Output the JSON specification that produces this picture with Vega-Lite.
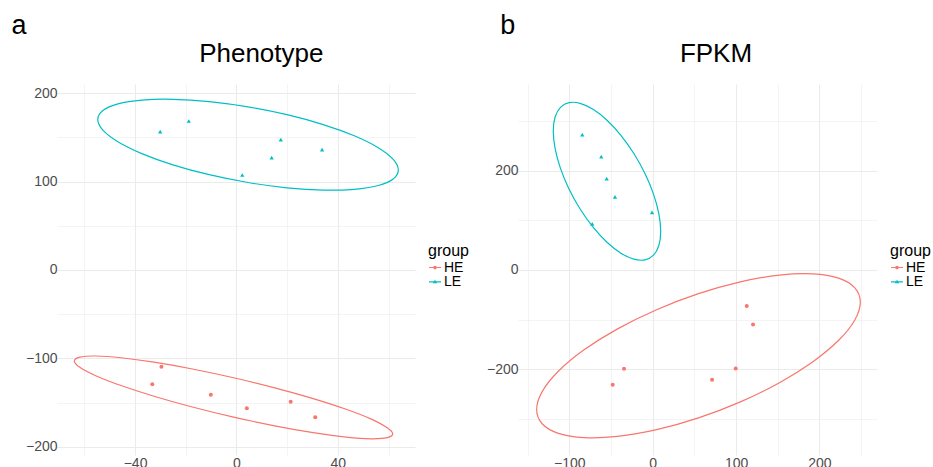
{
  "$schema": "https://vega.github.io/schema/vega-lite/v6.json",
  "padding": {"left": 11, "top": 11, "right": 0, "bottom": 0},
  "background": "white",
  "datasets": {
    "ptsA": [
      {"x": -30.1, "y": 156.5, "group": "LE"},
      {"x": -18.8, "y": 168.6, "group": "LE"},
      {"x": 2.3, "y": 107.5, "group": "LE"},
      {"x": 13.9, "y": 127.1, "group": "LE"},
      {"x": 17.5, "y": 147.5, "group": "LE"},
      {"x": 33.8, "y": 136.2, "group": "LE"},
      {"x": -29.6, "y": -109.4, "group": "HE"},
      {"x": -33.2, "y": -129.4, "group": "HE"},
      {"x": -10.1, "y": -141.1, "group": "HE"},
      {"x": 4.1, "y": -156.5, "group": "HE"},
      {"x": 21.4, "y": -149.1, "group": "HE"},
      {"x": 31.1, "y": -166.7, "group": "HE"}
    ],
    "ptsB": [
      {"x": -84.5, "y": 272.5, "group": "LE"},
      {"x": -61.7, "y": 228.3, "group": "LE"},
      {"x": -55.2, "y": 184.1, "group": "LE"},
      {"x": -45.2, "y": 147.2, "group": "LE"},
      {"x": -0.8, "y": 115.9, "group": "LE"},
      {"x": -72.5, "y": 93.0, "group": "LE"},
      {"x": 112.8, "y": -72.3, "group": "HE"},
      {"x": 120.4, "y": -109.8, "group": "HE"},
      {"x": -34.4, "y": -198.8, "group": "HE"},
      {"x": -48.0, "y": -230.9, "group": "HE"},
      {"x": 71.2, "y": -220.9, "group": "HE"},
      {"x": 99.6, "y": -198.2, "group": "HE"}
    ],
    "ellA": [
      {"i": 0, "x": 63.87, "y": 113.19, "group": "LE"},
      {"i": 1, "x": 61.85, "y": 103.09, "group": "LE"},
      {"i": 2, "x": 55.93, "y": 95.61, "group": "LE"},
      {"i": 3, "x": 46.50, "y": 91.29, "group": "LE"},
      {"i": 4, "x": 34.23, "y": 90.41, "group": "LE"},
      {"i": 5, "x": 19.92, "y": 93.04, "group": "LE"},
      {"i": 6, "x": 4.58, "y": 98.98, "group": "LE"},
      {"i": 7, "x": -10.76, "y": 107.84, "group": "LE"},
      {"i": 8, "x": -25.07, "y": 119.03, "group": "LE"},
      {"i": 9, "x": -37.34, "y": 131.75, "group": "LE"},
      {"i": 10, "x": -46.77, "y": 145.17, "group": "LE"},
      {"i": 11, "x": -52.69, "y": 158.35, "group": "LE"},
      {"i": 12, "x": -54.71, "y": 170.41, "group": "LE"},
      {"i": 13, "x": -52.69, "y": 180.51, "group": "LE"},
      {"i": 14, "x": -46.77, "y": 187.99, "group": "LE"},
      {"i": 15, "x": -37.34, "y": 192.31, "group": "LE"},
      {"i": 16, "x": -25.07, "y": 193.19, "group": "LE"},
      {"i": 17, "x": -10.76, "y": 190.56, "group": "LE"},
      {"i": 18, "x": 4.58, "y": 184.62, "group": "LE"},
      {"i": 19, "x": 19.92, "y": 175.76, "group": "LE"},
      {"i": 20, "x": 34.23, "y": 164.57, "group": "LE"},
      {"i": 21, "x": 46.50, "y": 151.85, "group": "LE"},
      {"i": 22, "x": 55.93, "y": 138.43, "group": "LE"},
      {"i": 23, "x": 61.85, "y": 125.25, "group": "LE"},
      {"i": 0, "x": 61.66, "y": -185.43, "group": "HE"},
      {"i": 1, "x": 59.52, "y": -189.78, "group": "HE"},
      {"i": 2, "x": 53.24, "y": -191.04, "group": "HE"},
      {"i": 3, "x": 43.27, "y": -189.09, "group": "HE"},
      {"i": 4, "x": 30.26, "y": -184.10, "group": "HE"},
      {"i": 5, "x": 15.11, "y": -176.37, "group": "HE"},
      {"i": 6, "x": -1.14, "y": -166.46, "group": "HE"},
      {"i": 7, "x": -17.39, "y": -155.03, "group": "HE"},
      {"i": 8, "x": -32.54, "y": -142.86, "group": "HE"},
      {"i": 9, "x": -45.55, "y": -130.79, "group": "HE"},
      {"i": 10, "x": -55.52, "y": -119.62, "group": "HE"},
      {"i": 11, "x": -61.80, "y": -110.14, "group": "HE"},
      {"i": 12, "x": -63.94, "y": -102.97, "group": "HE"},
      {"i": 13, "x": -61.80, "y": -98.62, "group": "HE"},
      {"i": 14, "x": -55.52, "y": -97.36, "group": "HE"},
      {"i": 15, "x": -45.55, "y": -99.31, "group": "HE"},
      {"i": 16, "x": -32.54, "y": -104.30, "group": "HE"},
      {"i": 17, "x": -17.39, "y": -112.03, "group": "HE"},
      {"i": 18, "x": -1.14, "y": -121.94, "group": "HE"},
      {"i": 19, "x": 15.11, "y": -133.37, "group": "HE"},
      {"i": 20, "x": 30.26, "y": -145.54, "group": "HE"},
      {"i": 21, "x": 43.27, "y": -157.61, "group": "HE"},
      {"i": 22, "x": 53.24, "y": -168.78, "group": "HE"},
      {"i": 23, "x": 59.52, "y": -178.62, "group": "HE"}
    ],
    "ellB": [
      {"i": 0, "x": 9.60, "y": 77.74, "group": "LE"},
      {"i": 1, "x": 7.40, "y": 49.38, "group": "LE"},
      {"i": 2, "x": 0.97, "y": 29.82, "group": "LE"},
      {"i": 3, "x": -9.27, "y": 20.41, "group": "LE"},
      {"i": 4, "x": -22.62, "y": 21.80, "group": "LE"},
      {"i": 5, "x": -38.16, "y": 33.87, "group": "LE"},
      {"i": 6, "x": -54.84, "y": 55.81, "group": "LE"},
      {"i": 7, "x": -71.52, "y": 86.13, "group": "LE"},
      {"i": 8, "x": -87.06, "y": 122.76, "group": "LE"},
      {"i": 9, "x": -100.41, "y": 163.19, "group": "LE"},
      {"i": 10, "x": -110.65, "y": 204.68, "group": "LE"},
      {"i": 11, "x": -117.08, "y": 244.42, "group": "LE"},
      {"i": 12, "x": -119.28, "y": 279.66, "group": "LE"},
      {"i": 13, "x": -117.08, "y": 308.02, "group": "LE"},
      {"i": 14, "x": -110.65, "y": 327.58, "group": "LE"},
      {"i": 15, "x": -100.41, "y": 336.99, "group": "LE"},
      {"i": 16, "x": -87.06, "y": 335.60, "group": "LE"},
      {"i": 17, "x": -71.52, "y": 323.53, "group": "LE"},
      {"i": 18, "x": -54.84, "y": 301.59, "group": "LE"},
      {"i": 19, "x": -38.16, "y": 271.27, "group": "LE"},
      {"i": 20, "x": -22.62, "y": 234.64, "group": "LE"},
      {"i": 21, "x": -9.27, "y": 194.21, "group": "LE"},
      {"i": 22, "x": 0.97, "y": 152.72, "group": "LE"},
      {"i": 23, "x": 7.40, "y": 112.98, "group": "LE"},
      {"i": 0, "x": 249.13, "y": -64.49, "group": "HE"},
      {"i": 1, "x": 242.51, "y": -100.54, "group": "HE"},
      {"i": 2, "x": 223.11, "y": -141.51, "group": "HE"},
      {"i": 3, "x": 192.26, "y": -184.60, "group": "HE"},
      {"i": 4, "x": 152.05, "y": -226.88, "group": "HE"},
      {"i": 5, "x": 105.21, "y": -265.48, "group": "HE"},
      {"i": 6, "x": 54.96, "y": -297.74, "group": "HE"},
      {"i": 7, "x": 4.71, "y": -321.48, "group": "HE"},
      {"i": 8, "x": -42.13, "y": -335.10, "group": "HE"},
      {"i": 9, "x": -82.34, "y": -337.64, "group": "HE"},
      {"i": 10, "x": -113.19, "y": -328.93, "group": "HE"},
      {"i": 11, "x": -132.59, "y": -309.58, "group": "HE"},
      {"i": 12, "x": -139.21, "y": -280.91, "group": "HE"},
      {"i": 13, "x": -132.59, "y": -244.86, "group": "HE"},
      {"i": 14, "x": -113.19, "y": -203.89, "group": "HE"},
      {"i": 15, "x": -82.34, "y": -160.80, "group": "HE"},
      {"i": 16, "x": -42.13, "y": -118.52, "group": "HE"},
      {"i": 17, "x": 4.71, "y": -79.92, "group": "HE"},
      {"i": 18, "x": 54.96, "y": -47.66, "group": "HE"},
      {"i": 19, "x": 105.21, "y": -23.92, "group": "HE"},
      {"i": 20, "x": 152.05, "y": -10.30, "group": "HE"},
      {"i": 21, "x": 192.26, "y": -7.76, "group": "HE"},
      {"i": 22, "x": 223.11, "y": -16.47, "group": "HE"},
      {"i": 23, "x": 242.51, "y": -35.82, "group": "HE"}
    ]
  },
  "hconcat": [
    {
      "width": 358,
      "height": 371,
      "layer": [
        {
          "data": {"name": "ellA"},
          "mark": {"type": "line", "interpolate": "cardinal-closed", "strokeWidth": 1.2},
          "encoding": {
            "x": {"field": "x", "type": "quantitative",
              "scale": {"domain": [-70.8, 70.45], "nice": false, "zero": false},
              "axis": {"values": [-60, -40, -20, 0, 20, 40, 60], "labelExpr": "datum.value % 40 === 0 ? datum.label : ''",
                "gridWidth": {"condition": {"test": "datum.value % 40 === 0", "value": 1.1}, "value": 0.55},
                "labelPadding": 1,
                "title": "Phenotype", "titleX": 203.8, "titleY": -393.3, "titleAlign": "center", "titleBaseline": "alphabetic",
                "titleFontSize": 26, "titleFontWeight": "normal", "titleColor": "black", "titleFont": "Liberation Sans"}},
            "y": {"field": "y", "type": "quantitative",
              "scale": {"domain": [-209.4, 210.5], "nice": false, "zero": false},
              "axis": {"values": [-200, -150, -100, -50, 0, 50, 100, 150, 200], "labelExpr": "datum.value % 100 === 0 ? datum.label : ''",
                "gridWidth": {"condition": {"test": "datum.value % 100 === 0", "value": 1.1}, "value": 0.55},
                "labelPadding": 0, "title": "a", "titleAngle": 0, "titleAlign": "left", "titleBaseline": "alphabetic",
                "titleX": -46, "titleY": -51, "titleFontSize": 27, "titleFontWeight": "normal", "titleColor": "black", "titleFont": "Liberation Sans"}},
            "color": {"field": "group", "type": "nominal",
              "scale": {"domain": ["HE", "LE"], "range": ["#F8766D", "#00BFC4"]},
              "legend": {"title": "group", "orient": "none", "legendX": 371, "legendY": 159,
                "titleFontSize": 16, "titleFontWeight": "normal", "titleColor": "black", "titleFont": "Liberation Sans",
                "labelFont": "Liberation Sans", "labelFontSize": 14, "labelColor": "black",
                "symbolSize": 144, "labelOffset": 2, "titlePadding": 1.5, "rowPadding": 0.4,
                "encode": {"symbols": {"update": {
                  "shape": {"signal": "datum.value === 'HE' ? 'M-1,-0.09L1,-0.09L1,0.09L-1,0.09Z M-0.3,0A0.3,0.3,0,1,1,0.3,0A0.3,0.3,0,1,1,-0.3,0Z' : 'M-1,-0.09L1,-0.09L1,0.09L-1,0.09Z M0,-0.36L0.36,0.24L-0.36,0.24Z'"},
                  "fill": {"signal": "datum.value === 'HE' ? '#F8766D' : '#00BFC4'"},
                  "stroke": {"value": "transparent"},
                  "strokeWidth": {"value": 0},
                  "opacity": {"value": 1}}}}}},
            "order": {"field": "i", "type": "quantitative"}
          }
        },
        {
          "data": {"name": "ptsA"},
          "transform": [{"filter": "datum.group === 'HE'"}],
          "mark": {"type": "point", "filled": true, "size": 16, "opacity": 1, "shape": "circle"},
          "encoding": {
            "x": {"field": "x", "type": "quantitative"},
            "y": {"field": "y", "type": "quantitative"},
            "color": {"field": "group", "type": "nominal"}
          }
        },
        {
          "data": {"name": "ptsA"},
          "transform": [{"filter": "datum.group === 'LE'"}],
          "mark": {"type": "point", "filled": true, "size": 18, "opacity": 1, "shape": "triangle-up"},
          "encoding": {
            "x": {"field": "x", "type": "quantitative"},
            "y": {"field": "y", "type": "quantitative"},
            "color": {"field": "group", "type": "nominal"}
          }
        }
      ]
    },
    {
      "width": 359,
      "height": 371,
      "layer": [
        {
          "data": {"name": "ellB"},
          "mark": {"type": "line", "interpolate": "cardinal-closed", "strokeWidth": 1.2},
          "encoding": {
            "x": {"field": "x", "type": "quantitative",
              "scale": {"domain": [-161.6, 269.1], "nice": false, "zero": false},
              "axis": {"values": [-150, -100, -50, 0, 50, 100, 150, 200, 250], "labelExpr": "datum.value % 100 === 0 ? datum.label : ''",
                "gridWidth": {"condition": {"test": "datum.value % 100 === 0", "value": 1.1}, "value": 0.55},
                "labelPadding": 1,
                "title": "FPKM", "titleX": 197.5, "titleY": -393.3, "titleAlign": "center", "titleBaseline": "alphabetic",
                "titleFontSize": 26, "titleFontWeight": "normal", "titleColor": "black", "titleFont": "Liberation Sans"}},
            "y": {"field": "y", "type": "quantitative",
              "scale": {"domain": [-372.5, 374.5], "nice": false, "zero": false},
              "axis": {"values": [-300, -200, -100, 0, 100, 200, 300], "labelExpr": "datum.value % 200 === 0 ? datum.label : ''",
                "gridWidth": {"condition": {"test": "datum.value % 200 === 0", "value": 1.1}, "value": 0.55},
                "labelPadding": 0, "title": "b", "titleAngle": 0, "titleAlign": "left", "titleBaseline": "alphabetic",
                "titleX": -18.3, "titleY": -51, "titleFontSize": 27, "titleFontWeight": "normal", "titleColor": "black", "titleFont": "Liberation Sans"}},
            "color": {"field": "group", "type": "nominal",
              "scale": {"domain": ["HE", "LE"], "range": ["#F8766D", "#00BFC4"]},
              "legend": {"title": "group", "orient": "none", "legendX": 372, "legendY": 159,
                "titleFontSize": 16, "titleFontWeight": "normal", "titleColor": "black", "titleFont": "Liberation Sans",
                "labelFont": "Liberation Sans", "labelFontSize": 14, "labelColor": "black",
                "symbolSize": 144, "labelOffset": 2, "titlePadding": 1.5, "rowPadding": 0.4,
                "encode": {"symbols": {"update": {
                  "shape": {"signal": "datum.value === 'HE' ? 'M-1,-0.09L1,-0.09L1,0.09L-1,0.09Z M-0.3,0A0.3,0.3,0,1,1,0.3,0A0.3,0.3,0,1,1,-0.3,0Z' : 'M-1,-0.09L1,-0.09L1,0.09L-1,0.09Z M0,-0.36L0.36,0.24L-0.36,0.24Z'"},
                  "fill": {"signal": "datum.value === 'HE' ? '#F8766D' : '#00BFC4'"},
                  "stroke": {"value": "transparent"},
                  "strokeWidth": {"value": 0},
                  "opacity": {"value": 1}}}}}},
            "order": {"field": "i", "type": "quantitative"}
          }
        },
        {
          "data": {"name": "ptsB"},
          "transform": [{"filter": "datum.group === 'HE'"}],
          "mark": {"type": "point", "filled": true, "size": 16, "opacity": 1, "shape": "circle"},
          "encoding": {
            "x": {"field": "x", "type": "quantitative"},
            "y": {"field": "y", "type": "quantitative"},
            "color": {"field": "group", "type": "nominal"}
          }
        },
        {
          "data": {"name": "ptsB"},
          "transform": [{"filter": "datum.group === 'LE'"}],
          "mark": {"type": "point", "filled": true, "size": 18, "opacity": 1, "shape": "triangle-up"},
          "encoding": {
            "x": {"field": "x", "type": "quantitative"},
            "y": {"field": "y", "type": "quantitative"},
            "color": {"field": "group", "type": "nominal"}
          }
        }
      ]
    }
  ],
  "spacing": 103,
  "bounds": "flush",
  "resolve": {"scale": {"color": "independent"}, "legend": {"color": "independent"}},
  "config": {
    "view": {"stroke": null},
    "font": "Liberation Sans",
    "axis": {"domain": false, "ticks": false, "gridColor": "#EBEBEB", "labelFont": "Liberation Sans", "labelFontSize": 14, "labelColor": "#4D4D4D", "labelOverlap": false, "labelFlush": false}
  }
}
